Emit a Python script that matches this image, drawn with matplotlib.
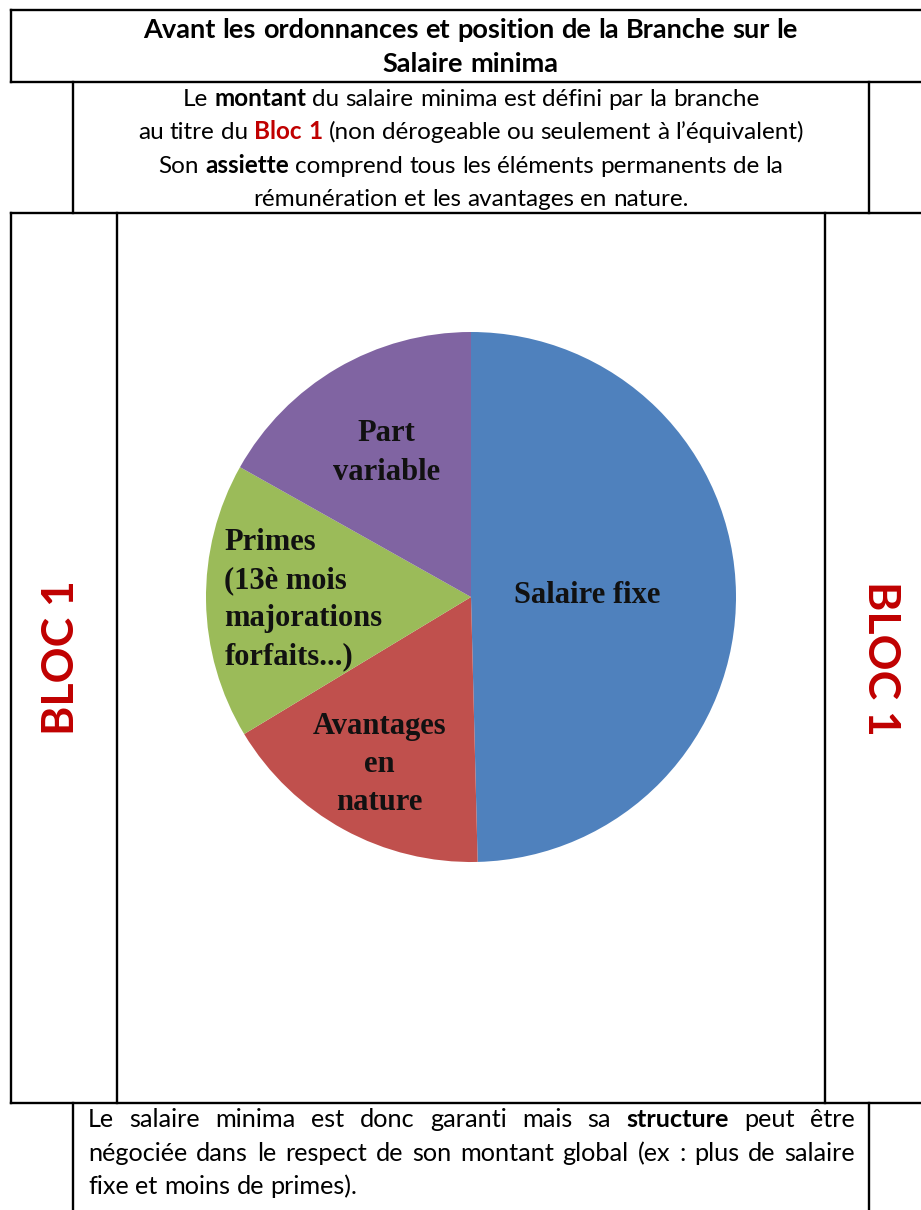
import matplotlib
matplotlib.use("Agg")
import matplotlib.pyplot as plt
import numpy as np

W, H = 921, 1210
DPI = 100

RED = "#C00000"
INK = "black"
SANS = "Lato"
SERIF = "Liberation Serif"

# pie data (clockwise from 12 o'clock)
slice_labels = ["Salaire fixe", "Avantages\nen\nnature",
                "Primes\n(13è mois\nmajorations\nforfaits...)", "Part\nvariable"]
slice_values = [49.6, 16.75, 16.8, 16.85]
slice_colors = ["#4F81BD", "#C0504D", "#9BBB59", "#8064A2"]

# text blocks: runs of (text, style) with style n=normal, b=bold, r=red bold
title_lines = [
    [("Avant les ordonnances et position de la Branche sur le", "b")],
    [("Salaire minima", "b")],
]
intro_lines = [
    [("Le ", "n"), ("montant", "b"), (" du salaire minima est défini par la branche", "n")],
    [("au titre du ", "n"), ("Bloc 1", "r"), (" (non dérogeable ou seulement à l’équivalent)", "n")],
    [("Son ", "n"), ("assiette", "b"), (" comprend tous les éléments permanents de la", "n")],
    [("rémunération et les avantages en nature.", "n")],
]
outro_lines = [
    [("Le salaire minima est donc garanti mais sa ", "n"), ("structure", "b"), (" peut être", "n")],
    [("négociée dans le respect de son montant global (ex\u00a0: plus de salaire", "n")],
    [("fixe et moins de primes).", "n")],
]
side_label = "BLOC 1"

fig = plt.figure(figsize=(W / DPI, H / DPI), dpi=DPI)
fig.patch.set_facecolor("white")
bg = fig.add_axes([0, 0, 1, 1])
bg.set_xlim(0, W)
bg.set_ylim(H, 0)
bg.axis("off")
renderer = fig.canvas.get_renderer()

LW = 1.7


def hline(y, x0, x1):
    bg.plot([x0, x1], [y, y], color=INK, lw=LW, solid_capstyle="projecting")


def vline(x, y0, y1):
    bg.plot([x, x], [y0, y1], color=INK, lw=LW, solid_capstyle="projecting")


# table grid
hline(10, 11, W)
hline(82, 11, W)
vline(11, 10, 82)
vline(73, 82, 213)
vline(869, 82, 213)
hline(213, 11, W)
vline(11, 213, 1103)
vline(117, 213, 1103)
vline(825, 213, 1103)
hline(1103, 11, W)
vline(73, 1103, H)
vline(869, 1103, H)


def style_kw(style, size):
    return dict(fontsize=size, family=SANS,
                fontweight="normal" if style == "n" else "bold",
                color=RED if style == "r" else INK)


def text_line(runs, y, left, right, mode="center", size=15):
    words = []
    for txt, style in runs:
        for w in txt.split():
            words.append((w.replace("\u00a0", " "), style))
    arts = []
    for w, style in words:
        t = bg.text(0, y, w, va="baseline", ha="left", **style_kw(style, size))
        arts.append((t, t.get_window_extent(renderer).width))
    a = bg.text(0, 0, "xx", fontsize=size, family=SANS)
    b = bg.text(0, 0, "x x", fontsize=size, family=SANS)
    space = b.get_window_extent(renderer).width - a.get_window_extent(renderer).width
    a.remove()
    b.remove()
    total = sum(w for _, w in arts)
    if mode == "justify" and len(arts) > 1:
        gap = (right - left - total) / (len(arts) - 1)
        x = left
    else:
        gap = space
        full = total + space * (len(arts) - 1)
        x = (left + right) / 2 - full / 2 if mode == "center" else left
    for t, w in arts:
        t.set_x(x)
        x += w + gap


for runs, y in zip(title_lines, [38, 72]):
    text_line(runs, y, 11, 930, size=19.5)
for runs, y in zip(intro_lines, [106, 139, 173, 206]):
    text_line(runs, y, 73, 869, size=17.5)
for runs, y, mode in zip(outro_lines, [1127, 1161, 1194], ["justify", "justify", "left"]):
    text_line(runs, y, 88, 855, mode=mode, size=18.2)

bg.text(61, 658, side_label, rotation=90, ha="center", va="center",
        fontsize=32, fontweight="bold", family=SANS, color=RED)
bg.text(881, 658, side_label, rotation=270, ha="center", va="center",
        fontsize=32, fontweight="bold", family=SANS, color=RED)

# pie
cx, cy, R = 471, 597, 265
ax = fig.add_axes([(cx - R) / W, 1 - (cy + R) / H, 2 * R / W, 2 * R / H])
wedges, _ = ax.pie(slice_values, colors=slice_colors, startangle=90,
                   counterclock=False, radius=1,
                   wedgeprops=dict(linewidth=0))
ax.set_xlim(-1, 1)
ax.set_ylim(-1, 1)
ax.set_aspect("equal")
ax.axis("off")

label_dist = [0.44, 0.72, 0.632, 0.63]
label_align = ["center", "center", "left", "center"]
for wdg, lab, d, al in zip(wedges, slice_labels, label_dist, label_align):
    mid = np.deg2rad((wdg.theta1 + wdg.theta2) / 2)
    ax.text(d * np.cos(mid), d * np.sin(mid), lab, ha="center", va="center",
            multialignment=al, family=SERIF, fontweight="bold",
            fontsize=22, linespacing=1.42, color="#111111")

fig.savefig("out.png", dpi=DPI, facecolor="white")
